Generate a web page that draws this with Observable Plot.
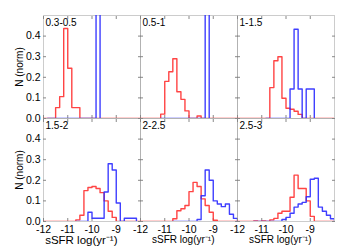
<!DOCTYPE html>
<html><head><meta charset="utf-8">
<script src="https://cdn.jsdelivr.net/npm/d3@7"></script>
<script src="https://cdn.jsdelivr.net/npm/@observablehq/plot@0.6"></script>
<style>html,body{margin:0;padding:0;background:#fff}</style>
</head><body><div id="chart"></div>
<script>
// panels (redshift bins)
const panelLabels = ["0.3-0.5", "0.5-1", "1-1.5", "1.5-2", "2-2.5", "2.5-3"];
const panelCol = [0, 1, 2, 0, 1, 2];
const panelRow = [0, 0, 0, 1, 1, 1];

// histogram bin edges (sSFR, log yr^-1)
const binEdges = [-12, -11.833, -11.667, -11.5, -11.333, -11.167, -11, -10.833, -10.667, -10.5,
  -10.333, -10.167, -10, -9.833, -9.667, -9.5, -9.333, -9.167, -9, -8.833, -8.667, -8.5, -8.333, -8.167, -8];

const xTicks = [-12, -11, -10, -9];
const yTicks = [0, 0.1, 0.2, 0.3, 0.4];
const xLabel = "sSFR log(yr\u207B\u00B9)";
const yLabel = "N (norm)";
const xLabelCols = [0, 1, 2];
const xLabelSizes = [11.5, 10, 10];

// red histograms (one value per bin)
const red1 = [0,0,0,0.053,0.106,0.437,0.244,0.053,0.053,0,0,0,0,0,0,0,0,0,0,0,0,0,0,0];
const red2 = [0,0,0,0,0,0.021,0.18,0.227,0.29,0.13,0.093,0.037,0,0,0.012,0,0,0,0,0,0,0,0,0];
const red3 = [0,0,0,0,0,0,0,0,0.15,0.28,0.30,0.098,0.05,0.045,0.035,0.02,0,0,0,0,0,0,0,0];
const red4 = [0,0,0,0,0,0,0,0,0.008,0.03,0.15,0.165,0.17,0.16,0.14,0.1,0.05,0.02,0,0,0,0,0,0];
const red5 = [0,0,0,0,0,0,0,0,0.013,0.052,0.062,0.078,0.145,0.19,0.17,0.11,0.078,0.045,0.006,0,0,0,0,0];
const red6 = [0,0,0,0,0.003,0,0.003,0,0.008,0.015,0.04,0.05,0.05,0.118,0.225,0.16,0.16,0.1,0.025,0,0,0,0,0];

// blue histograms (null = outside the drawn range)
const blue1 = [null,0,0,0,0,0,0,0,0,0,0,0,0,1.0,null,null,null,null,null,null,null,null,null,null];
const blue2 = [null,null,null,null,null,0,0,0,0,0,0,0,0,0,0,0,1.0,null,null,null,null,null,null,null];
const blue3 = [null,null,null,null,null,null,null,0,0,0,0,0,0,0.143,0.433,0.143,0,0.143,0.143,null,null,null,null,null];
const blue4 = [null,null,null,null,null,null,null,null,0,0,0,0.045,0.016,0.016,0.016,0.143,0.28,0.25,0.09,0,0.016,0.016,0.016,null];
const blue5 = [null,null,null,null,null,null,null,null,0,0,0,0,0,0,0.01,0.125,0.25,0.2,0.1,0.085,0.072,0.085,0.035,0.015];
const blue6 = [null,null,null,null,0,0,0,0,0,0,0,0.01,0.02,0.04,0.07,0.085,0.093,0.12,0.205,0.21,0.07,0.05,0.03,0.013];

const redSeries = [red1, red2, red3, red4, red5, red6];
const blueSeries = [blue1, blue2, blue3, blue4, blue5, blue6];

function steps(values, p) {
  const pts = [];
  let last = -1;
  values.forEach((v, k) => {
    if (v != null) { pts.push({x: binEdges[k], y: v, panel: p, col: panelCol[p], row: panelRow[p]}); last = k; }
  });
  pts.push({x: binEdges[last + 1], y: 0, panel: p, col: panelCol[p], row: panelRow[p]});
  return pts;
}
const redPts = redSeries.flatMap((s, p) => steps(s, p));
const bluePts = blueSeries.flatMap((s, p) => steps(s, p));
const labelData = panelLabels.map((t, p) => ({t, col: panelCol[p], row: panelRow[p]}));
const xLabelData = xLabelCols.map((c, i) => ({t: xLabel, col: c, row: 1, size: xLabelSizes[i]}));

const tickColor = "#888";
const chart = Plot.plot({
  width: 350, height: 251,
  marginLeft: 42, marginRight: 15, marginTop: 14, marginBottom: 30,
  style: {fontFamily: "'Liberation Sans', Arial, sans-serif", fontSize: "10px", color: "#000", background: "#fff"},
  x: {domain: [-12, -8]},
  y: {domain: [0, 0.5]},
  fx: {domain: [0, 1, 2], padding: 0, axis: null},
  fy: {domain: [0, 1], padding: 0, axis: null},
  marks: [
    Plot.frame({stroke: "#999", strokeDasharray: "1,1"}),
    Plot.axisX({ticks: xTicks, anchor: "bottom", tickSize: -3, fill: "none", stroke: tickColor, facetAnchor: null, label: null}),
    Plot.axisX({ticks: xTicks, anchor: "top", tickSize: -3, fill: "none", stroke: tickColor, facetAnchor: null, label: null}),
    Plot.axisY({ticks: yTicks, anchor: "left", tickSize: -3, fill: "none", stroke: tickColor, facetAnchor: null, label: null}),
    Plot.axisY({ticks: yTicks, anchor: "right", tickSize: -3, fill: "none", stroke: tickColor, facetAnchor: null, label: null}),
    Plot.axisX({ticks: xTicks, anchor: "bottom", tickSize: 0, tickPadding: 4, tickFormat: d => String(d), label: null, fontSize: 10.5}),
    Plot.axisY({ticks: yTicks, anchor: "left", tickSize: 0, tickPadding: 3, tickFormat: d => d.toFixed(1), label: null, fontSize: 10.5}),
    Plot.line(redPts, {x: "x", y: "y", z: "panel", fx: "col", fy: "row", curve: "step-after",
      stroke: "#ff3030", strokeOpacity: 0.9, strokeWidth: 1.4, clip: true}),
    Plot.line(bluePts, {x: "x", y: "y", z: "panel", fx: "col", fy: "row", curve: "step-after",
      stroke: "#2a2aff", strokeOpacity: 0.9, strokeWidth: 1.4, clip: true}),
    Plot.text(labelData, {fx: "col", fy: "row", text: "t", frameAnchor: "top-left", textAnchor: "start", lineAnchor: "top",
      dx: 2, dy: 3, fontSize: 10}),
    Plot.text([yLabel], {text: d => d, frameAnchor: "left", rotate: -90, textAnchor: "middle", lineAnchor: "middle",
      dx: -24, facetAnchor: "left", fontSize: 10}),
    Plot.text(xLabelData, {fx: "col", fy: "row", text: "t", fontSize: "size", frameAnchor: "bottom-left",
      textAnchor: "end", lineAnchor: "top", dx: 74, dy: 14})
  ]
});
document.getElementById("chart").appendChild(chart);
</script>
</body></html>
